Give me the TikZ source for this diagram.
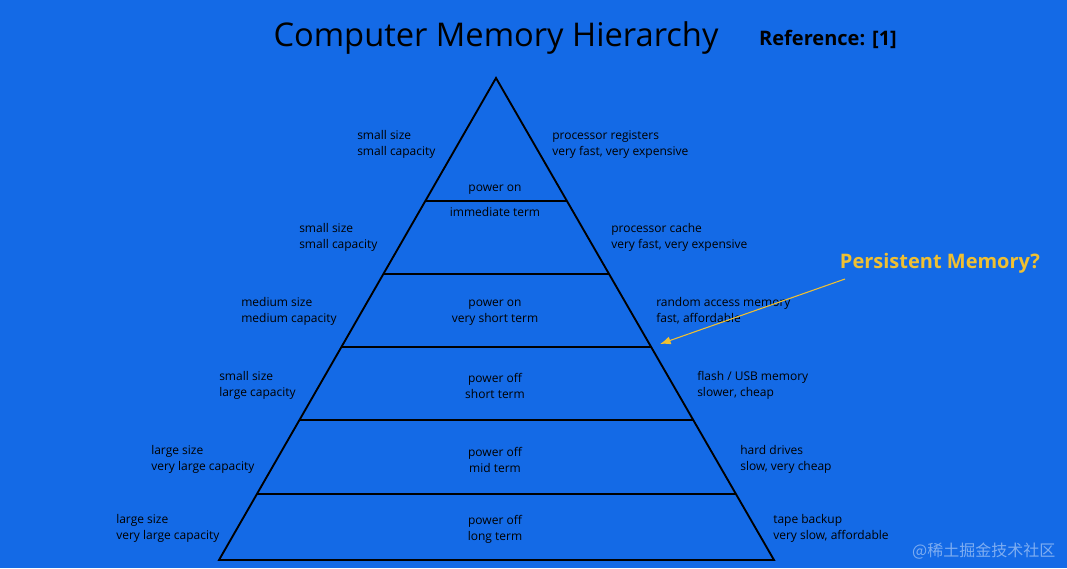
\documentclass[tikz,border=0pt]{standalone}
\usepackage{fontspec}
\setmainfont{Open Sans}
\newfontfamily\cjk{Noto Sans CJK SC}
\usetikzlibrary{arrows.meta,calc}
\definecolor{bgblue}{RGB}{20,106,230}
\definecolor{pmyellow}{RGB}{240,192,50}
\tikzset{
  lbl/.style={anchor=north west,align=left,font=\fontsize{9}{12}\selectfont,inner sep=0pt},
  mid/.style={anchor=center,align=center,font=\fontsize{9}{12}\selectfont,inner sep=0pt},
  tier/.style={line width=1.4pt,black}
}
\begin{document}
\begin{tikzpicture}[x=0.75pt,y=-0.75pt]
    % hintergrund
    \fill[bgblue] (0,0) rectangle (1067,568);

    % pyramide
    \coordinate (top) at (496,78);
    \coordinate (bl) at (219,560);
    \coordinate (br) at (774,560);
    \draw[tier,line join=miter] (top) -- (bl) -- (br) -- cycle;
    \foreach \y in {201,274,347,420,494}{
        \draw[tier] ($(top)!{(\y-78)/482}!(bl)$) -- ($(top)!{(\y-78)/482}!(br)$);
    }

    % titel
    \node[font=\fontsize{24.5}{28}\selectfont] (title) at (496,38) {Computer Memory Hierarchy};
    \node[font=\fontsize{15}{18}\selectfont\bfseries] (ref) at (828,39) {Reference: [1]};

    % links
    \node[lbl] (l1) at (357,130) {small size\\small capacity};
    \node[lbl] (l2) at (299,223) {small size\\small capacity};
    \node[lbl] (l3) at (241,297) {medium size\\medium capacity};
    \node[lbl] (l4) at (219,371) {small size\\large capacity};
    \node[lbl] (l5) at (151,445) {large size\\very large capacity};
    \node[lbl] (l6) at (116,514) {large size\\very large capacity};

    % rechts
    \node[lbl] (r1) at (552,130) {processor registers\\very fast, very expensive};
    \node[lbl] (r2) at (611,223) {processor cache\\very fast, very expensive};
    \node[lbl] (r3) at (656,297) {random access memory\\fast, affordable};
    \node[lbl] (r4) at (697,371) {flash / USB memory\\slower, cheap};
    \node[lbl] (r5) at (740,445) {hard drives\\slow, very cheap};
    \node[lbl] (r6) at (773,514) {tape backup\\very slow, affordable};

    % mitte
    \node[mid] (m1) at (495,190) {power on};
    \node[mid] (m1b) at (495,212) {immediate term};
    \node[mid] (m3) at (495,313) {power on\\very short term};
    \node[mid] (m4) at (495,386) {power off\\short term};
    \node[mid] (m5) at (495,460) {power off\\mid term};
    \node[mid] (m6) at (495,529) {power off\\long term};

    % persistent memory
    \node[font=\fontsize{15}{18}\selectfont\bfseries,text=pmyellow] (pm) at (940,263) {Persistent Memory?};
    \coordinate (pmtip) at (660,344);
    \draw[pmyellow,line width=0.8pt,-{Latex[length=8pt,width=6pt]}] (845,279) -- (pmtip);

    \node[text=white,opacity=0.45,font=\cjk\fontsize{12}{14}\selectfont,anchor=east] (wm) at (1060,551) {@稀土掘金技术社区};
\end{tikzpicture}
\end{document}
